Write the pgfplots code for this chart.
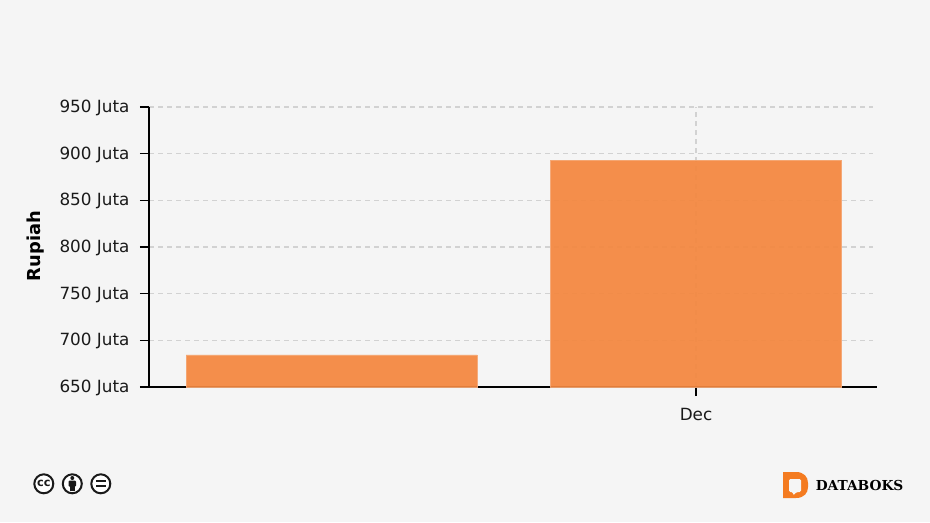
\documentclass[border=0pt]{standalone}
\usepackage{fontspec}
\setmainfont{DejaVu Sans}
\newfontfamily\logofont{DejaVu Serif}
\usepackage{pgfplots}
\pgfplotsset{compat=1.18}
\definecolor{bgc}{HTML}{F5F5F5}
\definecolor{barc}{HTML}{F4873F}
\definecolor{gridc}{HTML}{D2D2D2}
\definecolor{logoc}{HTML}{F47B20}
\definecolor{inkc}{HTML}{1A1A1A}
\begin{document}
\begin{tikzpicture}[x=0.75pt,y=0.75pt]
\fill[bgc] (0,0) rectangle (930,522);
\clip (0,0) rectangle (930,522);
\begin{axis}[
  at={(111.75pt,101.25pt)}, anchor=south west,
  scale only axis, width=543pt, height=210pt,
  xmin=-0.5007, xmax=1.4856, ymin=650, ymax=950,
  axis lines=left, axis line style={-, black, line width=1.1pt},
  xtick={1}, xticklabels={Dec},
  ytick={650,700,750,800,850,900,950},
  yticklabels={650 Juta,700 Juta,750 Juta,800 Juta,850 Juta,900 Juta,950 Juta},
  tick style={black, line width=1.1pt},
  tick align=outside, major tick length=6.75pt,
  ymajorgrids, xmajorgrids,
  grid style={gridc, line width=0.8pt, dash pattern=on 3.6pt off 3.15pt},
  tick label style={font=\fontsize{12.6pt}{14pt}\selectfont, text=inkc},
  yticklabel style={xshift=-4.4pt, yshift=-0.6pt},
  xticklabel style={yshift=-6pt},
  /pgf/number format/assume math mode=true,
]
\addplot[ybar, bar width=218.25pt, bar shift=0pt, fill=barc, draw=barc!70!bgc, line width=0.6pt, opacity=0.93]
  coordinates {(0,684.3) (1,893.2)};
\end{axis}
\draw[black, line width=1.1pt] (872,135) -- (877,135);
\node[rotate=90, font=\fontsize{13.4pt}{15pt}\selectfont\bfseries, text=black] at (36,276) {Rupiah};
% licence icons
\foreach \cx in {43.8,72.3,100.8} \draw[inkc, line width=1.5pt, fill=white] (\cx,38.2) circle (9.5);
\node[font=\fontsize{8.5pt}{9pt}\selectfont\bfseries, text=inkc, inner sep=0pt] at (43.8,39) {cc};
\fill[inkc] (72.3,44) circle (2);
\fill[inkc, rounded corners=0.6pt] (68.6,41.3) rectangle (76,35.5);
\fill[inkc] (70,36) rectangle (74.6,30.8);
\fill[inkc] (96,39.6) rectangle (105.6,41.6);
\fill[inkc] (96,34.8) rectangle (105.6,36.8);
% logo
\fill[logoc] (783,50) -- (783,24) -- (796,24) .. controls (804,24) and (808,29) .. (808,35) -- (808,39) .. controls (808,45) and (804,50) .. (796,50) -- cycle;
\fill[bgc, rounded corners=1pt] (789,43) -- (801,43) -- (801,30) -- (796.5,30) -- (793,26.5) -- (793,30) -- (789,30) -- cycle;
\node[font=\fontsize{10.3pt}{13pt}\selectfont\logofont\bfseries, text=black, inner sep=0pt, anchor=west] at (815.5,36.5) {DATABOKS};
\end{tikzpicture}
\end{document}
